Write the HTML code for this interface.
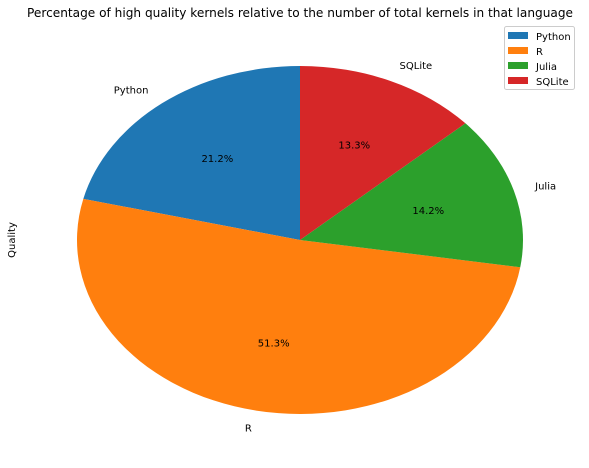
<!DOCTYPE html>
<html><head><meta charset="utf-8"><style>
body{margin:0;background:#fff;}
svg{display:block;font-family:"DejaVu Sans","Liberation Sans",sans-serif;}
</style></head><body>
<svg id="chart" width="589" height="468">
<text x="300" y="17" text-anchor="middle" font-size="12.2" textLength="546" lengthAdjust="spacingAndGlyphs">Percentage of high quality kernels relative to the number of total kernels in that language</text>
<text transform="translate(15,240) rotate(-90)" text-anchor="middle" font-size="10">Quality</text>
<g id="slices"></g>
<g id="legend">
<rect x="504.5" y="26.5" width="70" height="63" fill="#fff" stroke="#ccc" rx="2"/>
</g>
</svg>
<script>
const categories = ["Python","R","Julia","SQLite"];
const values = [21.2, 51.3, 14.2, 13.3];
const colors = ["#1f77b4","#ff7f0e","#2ca02c","#d62728"];
const NS="http://www.w3.org/2000/svg";
const cx=300, cy=240, rx=223, ry=174;
const total=values.reduce((a,b)=>a+b,0);
const g=document.getElementById('slices');
function pt(a,s){return [cx+s*rx*Math.cos(a), cy-s*ry*Math.sin(a)];}
let ang=90;
values.forEach((v,i)=>{
  const sweep=v/total*360;
  const a0=ang*Math.PI/180, a1=(ang+sweep)*Math.PI/180;
  const p0=pt(a0,1), p1=pt(a1,1);
  const path=document.createElementNS(NS,'path');
  path.setAttribute('d',`M${cx},${cy} L${p0[0]},${p0[1]} A${rx},${ry} 0 ${sweep>180?1:0} 0 ${p1[0]},${p1[1]} Z`);
  path.setAttribute('fill',colors[i]);
  
  
  g.appendChild(path);
  const am=(ang+sweep/2)*Math.PI/180;
  const lp=pt(am,1.1);
  const t=document.createElementNS(NS,'text');
  t.setAttribute('x',lp[0]); t.setAttribute('y',lp[1]+4);
  t.setAttribute('font-size','10');
  t.setAttribute('text-anchor',Math.cos(am)<0?'end':'start');
  t.textContent=categories[i];
  
  
  g.appendChild(t);
  const pp=pt(am,0.6);
  const t2=document.createElementNS(NS,'text');
  t2.setAttribute('x',pp[0]); t2.setAttribute('y',pp[1]+4);
  t2.setAttribute('font-size','10'); t2.setAttribute('text-anchor','middle');
  t2.textContent=v.toFixed(1)+'%';
  
  
  g.appendChild(t2);
  ang+=sweep;
});
const lg=document.getElementById('legend');
categories.forEach((c,i)=>{
  const y=36+i*15;
  const r=document.createElementNS(NS,'rect');
  r.setAttribute('x',508); r.setAttribute('y',y-4); r.setAttribute('width',20); r.setAttribute('height',7);
  r.setAttribute('fill',colors[i]);
  
  
  lg.appendChild(r);
  const t=document.createElementNS(NS,'text');
  t.setAttribute('x',536); t.setAttribute('y',y+4); t.setAttribute('font-size','10');
  t.textContent=c;
  
  
  lg.appendChild(t);
});
</script>
</body></html>
